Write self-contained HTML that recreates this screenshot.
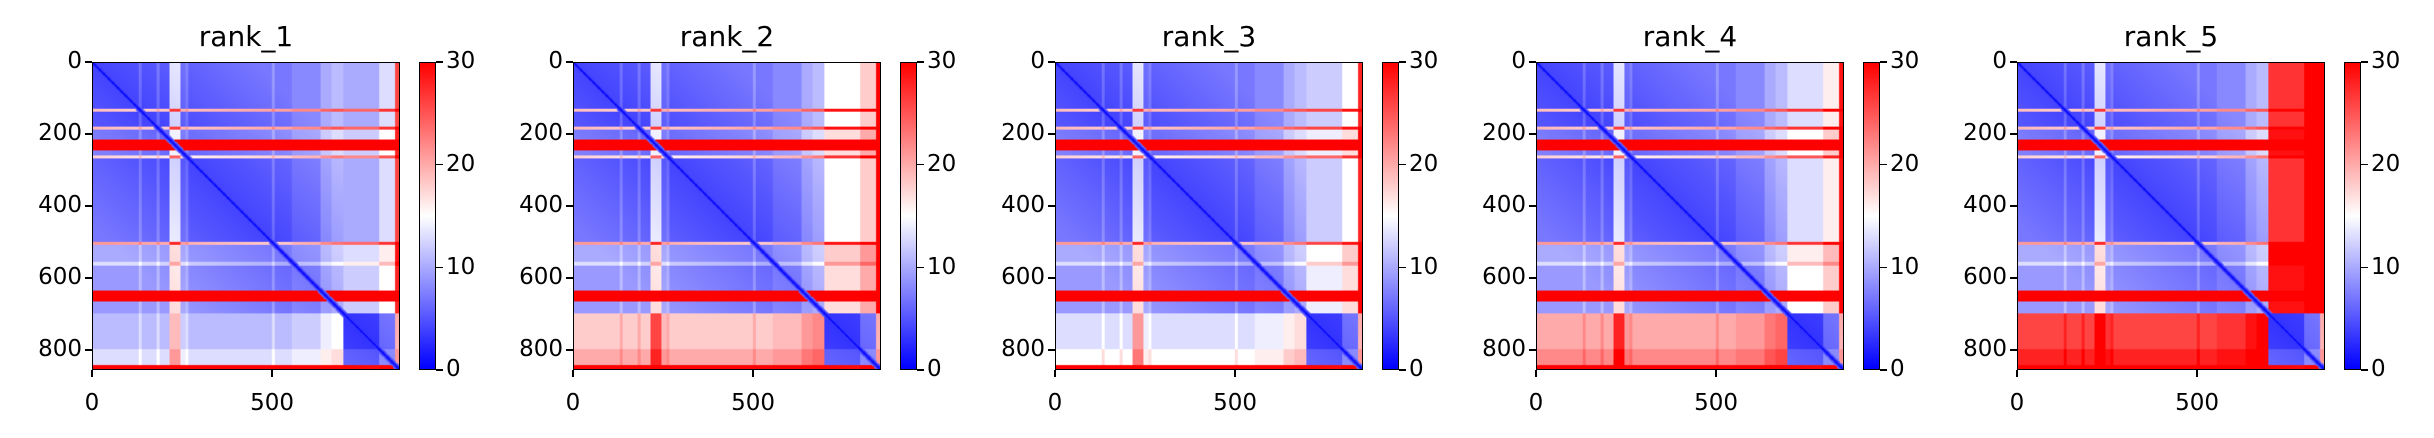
<!DOCTYPE html>
<html><head><meta charset="utf-8">
<style>
body{margin:0;background:#fff;width:2434px;height:438px;overflow:hidden;font-family:"DejaVu Sans","Liberation Sans",sans-serif;}
#root{position:relative;width:2434px;height:438px;}
.t{position:absolute;color:#000;white-space:nowrap;}
</style></head>
<body><div id="root"></div>
<script>
// ---- data ----
const ranks = ["rank_1","rank_2","rank_3","rank_4","rank_5"];
const nRes = 855;
const segBounds = [0,128,136,178,186,215,245,258,266,500,508,555,565,635,665,700,720,800,845,855];
const rowAdd    = [0, 14, 0, 14, 2, 26, 2, 12, 0, 14, 3, 6, 2, 26, 2, 0, 0, 2, 26];
const colAdd    = [0, 2, 0, 2, 0, 8, 1, 2, 0, 2, 0, 1, 1, 3, 4, 0, 0, 3, 16];
const domainBounds = [0,700,855];
const upperRight = [10,15,12,13,27];
const lowerLeft  = [11,18,13,20,26];
const withinBase = [4,3];
const xTicks = [0,500];
const yTicks = [0,200,400,600,800];
const cbTicks = [0,10,20,30];
const vmax = 30;

// ---- layout ----
const panelLeft0 = 92, panelStep = 481.25, topY = 62, size = 308;
const cbGap = 327, cbW = 17;
const root = document.getElementById('root');
function seg(v, b){for(let k=b.length-2;k>=0;k--) if(v>=b[k]) return k; return 0;}
function bwr(v){const t=Math.max(0,Math.min(1,v/vmax));
  if(t<0.5){const s=t/0.5;return [Math.round(255*s),Math.round(255*s),255];}
  const s=(t-0.5)/0.5;return [255,Math.round(255*(1-s)),Math.round(255*(1-s))];}
function value(r,i,j){
  const di=seg(i,domainBounds), dj=seg(j,domainBounds);
  let base = di===dj ? withinBase[di] : (di<dj ? upperRight[r] : lowerLeft[r]);
  const d=Math.abs(i-j);
  let v = base + rowAdd[seg(i,segBounds)] + colAdd[seg(j,segBounds)];
  if(di===dj) v += Math.min(d/150,3);
  if(d<12) v=Math.min(v, d*0.6);
  return v;
}
function addText(txt,x,y,fs,align,name){
  const e=document.createElement('div');e.className='t';e.textContent=txt;
  e.style.fontSize=fs+'px';e.style.top=(y-fs*0.6)+'px';
  if(align==='center'){e.style.left=x+'px';e.style.transform='translateX(-50%)';}
  else if(align==='right'){e.style.right=(2434-x)+'px';}
  else e.style.left=x+'px';
  
  
  root.appendChild(e);return e;
}
function addLine(x,y,w,h,name){
  const e=document.createElement('div');e.style.cssText=`position:absolute;left:${x}px;top:${y}px;width:${w}px;height:${h}px;background:#000`;
  
  
  root.appendChild(e);
}
ranks.forEach((name,r)=>{
  const L=Math.round(panelLeft0+panelStep*r);
  const sc=size/nRes;
  addText(name,L+size/2,topY-25,28,'center','panel-title');
  const cv=document.createElement('canvas');cv.width=size;cv.height=size;
  cv.style.cssText=`position:absolute;left:${L}px;top:${topY}px;border:1.5px solid #000;box-sizing:border-box;width:${size}px;height:${size}px`;
  
  
  root.appendChild(cv);
  const ctx=cv.getContext('2d');const img=ctx.createImageData(size,size);
  for(let py=0;py<size;py++)for(let px=0;px<size;px++){
    const i=Math.floor((py+0.5)/sc), j=Math.floor((px+0.5)/sc);
    const c=bwr(value(r,i,j));const o=(py*size+px)*4;
    img.data[o]=c[0];img.data[o+1]=c[1];img.data[o+2]=c[2];img.data[o+3]=255;}
  ctx.putImageData(img,0,0);
  yTicks.forEach(t=>{const y=topY+t*sc;addLine(L-7,y-0.75,7,1.5,'y-tick');addText(String(t),L-10,y,23,'right','y-tick-label');});
  xTicks.forEach(t=>{const x=L+t*sc;addLine(x-0.75,topY+size,1.5,7,'x-tick');addText(String(t),x,topY+size+34,23,'center','x-tick-label');});
  const cx=L+cbGap;
  const cb=document.createElement('div');
  cb.style.cssText=`position:absolute;left:${cx}px;top:${topY}px;width:${cbW}px;height:${size}px;border:1.5px solid #000;box-sizing:border-box;background:linear-gradient(to top,#0000ff,#ffffff,#ff0000)`;
  
  
  root.appendChild(cb);
  cbTicks.forEach(t=>{const y=topY+size-t/vmax*size;addLine(cx+cbW,y-0.75,7,1.5,'colorbar-tick');addText(String(t),cx+cbW+10,y,23,'left','colorbar-tick-label');});
});
</script></body></html>
